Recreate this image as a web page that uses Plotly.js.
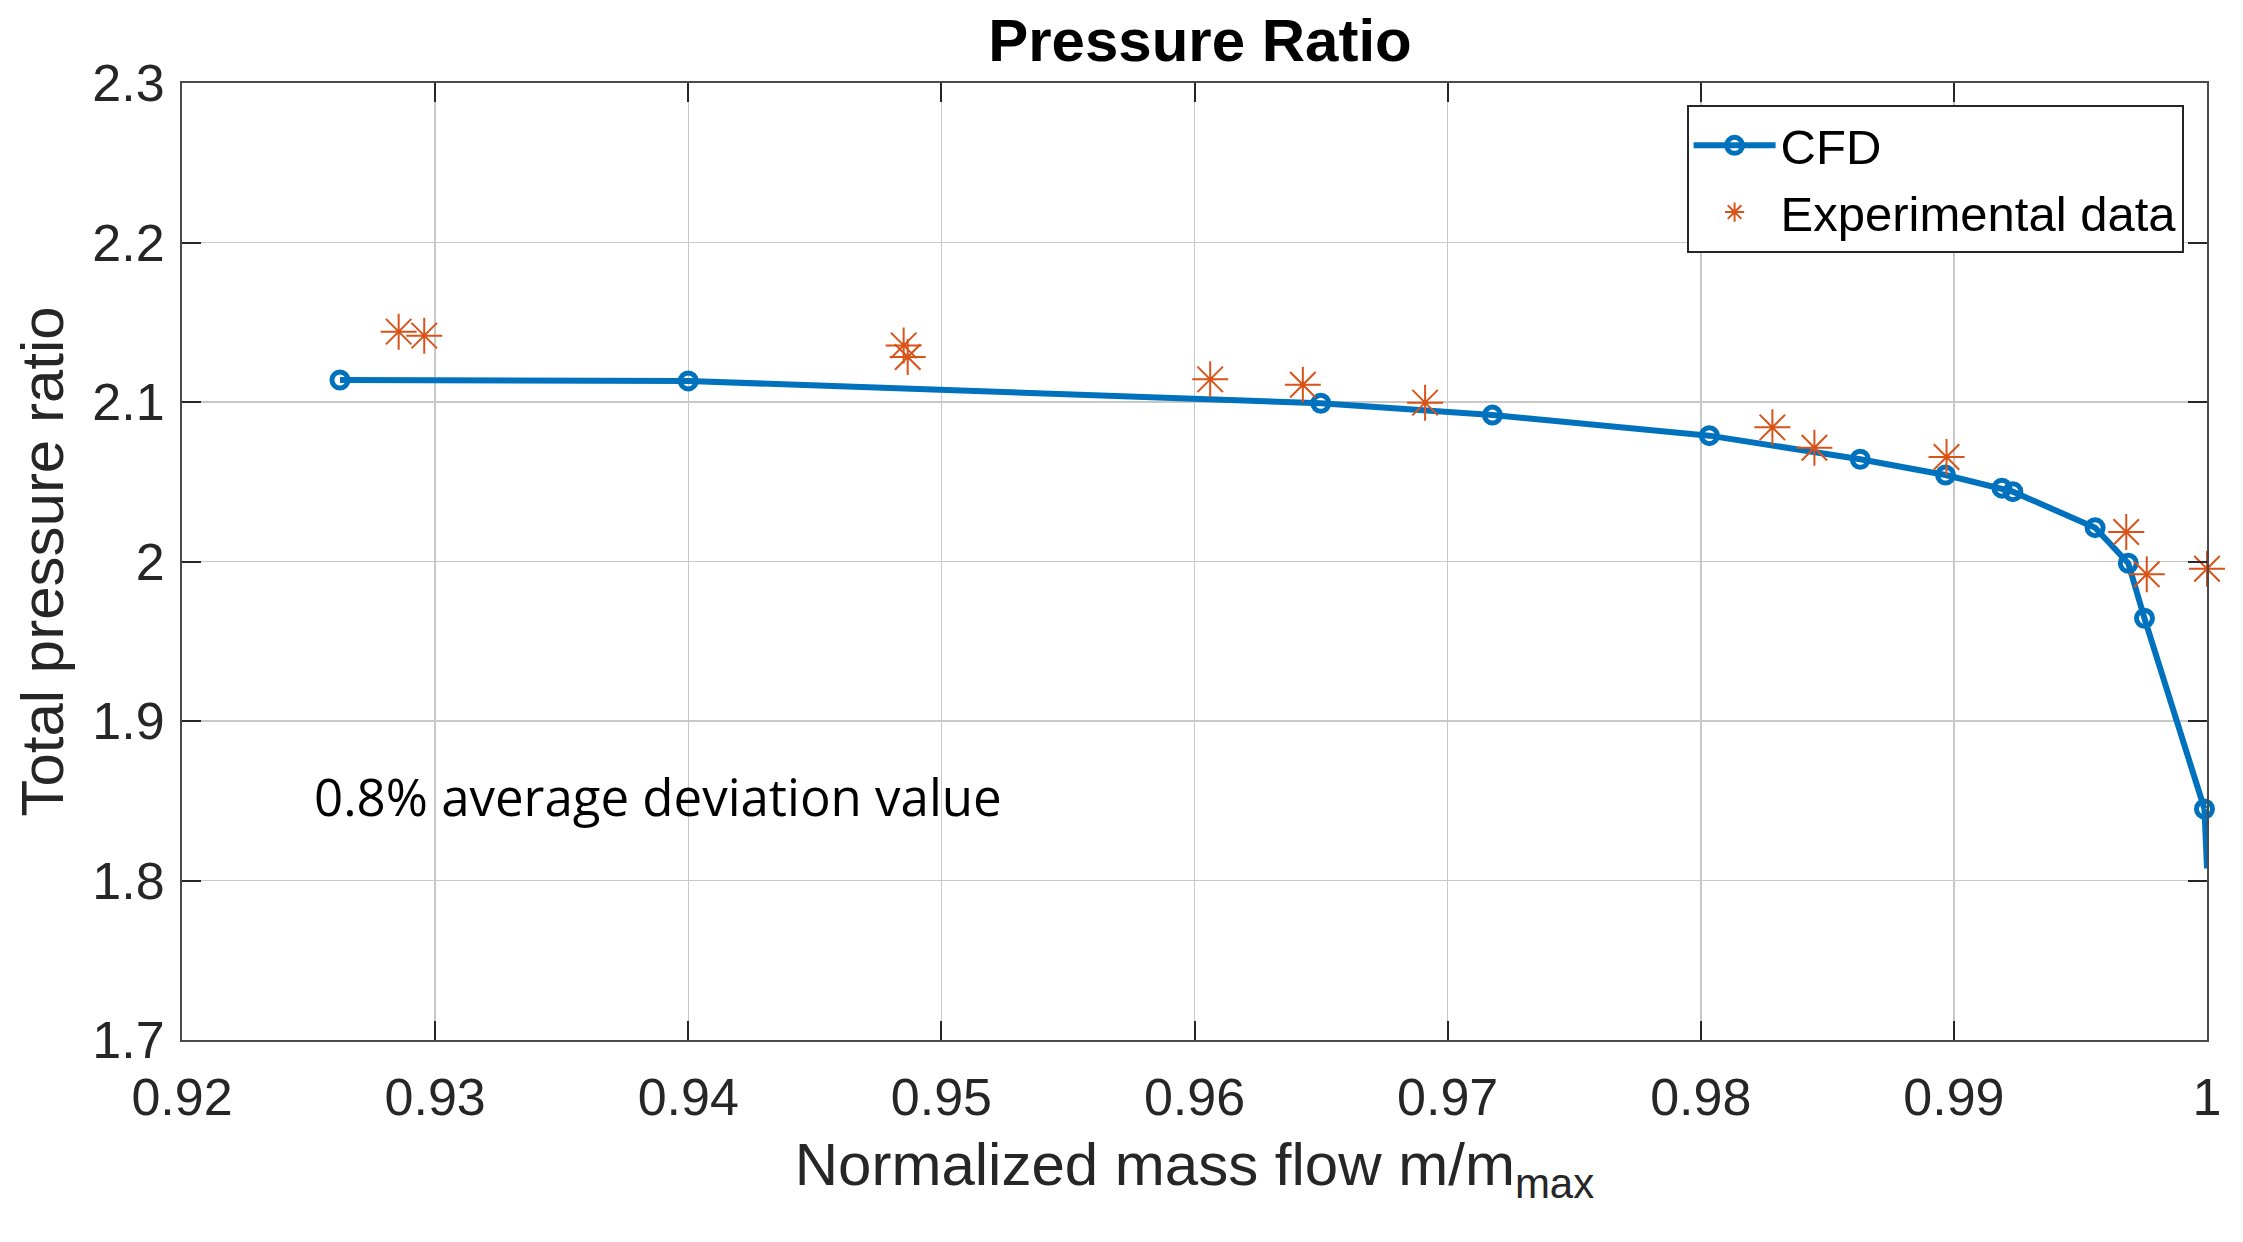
<!DOCTYPE html>
<html>
<head>
<meta charset="utf-8">
<script src="https://cdn.plot.ly/plotly-3.0.1.min.js"></script>
<style>html,body{margin:0;padding:0;background:#fff;}#chart{width:2243px;height:1242px;}</style>
</head>
<body>
<div id="chart"></div>
<script>
// CFD results (normalized mass flow, total pressure ratio)
const cfdX = [0.92624, 0.94000, 0.96499, 0.97177, 0.98034, 0.98630, 0.98967, 0.99190, 0.99233, 0.99558, 0.99689, 0.99753, 0.99990];
const cfdY = [2.1138, 2.1132, 2.0992, 2.0918, 2.0789, 2.0641, 2.0542, 2.0460, 2.0438, 2.0212, 1.9989, 1.9644, 1.8448];
// CFD curve continues (line only) to the axis edge
const cfdTailX = [0.99990, 1.00000];
const cfdTailY = [1.8448, 1.8076];
// Experimental data
const expX = [0.92856, 0.92957, 0.94851, 0.94867, 0.96062, 0.96428, 0.96911, 0.98283, 0.98449, 0.98971, 0.99681, 0.99762, 1.00000];
const expY = [2.1441, 2.1416, 2.1355, 2.1282, 2.1142, 2.1108, 2.0996, 2.0841, 2.0713, 2.0655, 2.0185, 1.9920, 1.9955];
// Axis ticks
const xTickVals = [0.92, 0.93, 0.94, 0.95, 0.96, 0.97, 0.98, 0.99, 1.0];
const xTickText = ['0.92', '0.93', '0.94', '0.95', '0.96', '0.97', '0.98', '0.99', '1'];
const yTickVals = [1.7, 1.8, 1.9, 2.0, 2.1, 2.2, 2.3];
const yTickText = ['1.7', '1.8', '1.9', '2', '2.1', '2.2', '2.3'];
const seriesNames = ['CFD', 'Experimental data'];
const noteText = '0.8% average deviation value';

const blue = '#0072BD';
const orange = '#D95319';
const axFont = {family: 'Liberation Sans, Arial, sans-serif', size: 52, color: '#262626'};

const traces = [
  {
    x: cfdTailX, y: cfdTailY, mode: 'lines', showlegend: false, hoverinfo: 'skip',
    line: {color: blue, width: 6}, cliponaxis: false
  },
  {
    x: cfdX, y: cfdY, name: seriesNames[0], mode: 'lines+markers',
    line: {color: blue, width: 6},
    marker: {symbol: 'circle-open', size: 16, color: blue, line: {color: blue, width: 5}},
    cliponaxis: false
  },
  {
    x: expX, y: expY, name: seriesNames[1], mode: 'markers',
    marker: {symbol: 'asterisk-open', size: 30, color: orange, line: {color: orange, width: 2}},
    cliponaxis: false
  }
];

const axisCommon = {
  showline: true, linecolor: '#4a4a4a', linewidth: 2, mirror: 'ticks',
  ticks: 'inside', ticklen: 19, tickwidth: 2, tickcolor: '#262626',
  showgrid: true, gridcolor: '#c8c8c8', gridwidth: 1.5,
  zeroline: false, tickfont: axFont, automargin: false
};

const layout = {
  width: 2243, height: 1242,
  paper_bgcolor: '#ffffff', plot_bgcolor: '#ffffff',
  margin: {l: 182, r: 36, t: 83, b: 202},
  title: {
    text: '<b>Pressure Ratio</b>',
    font: {family: 'Liberation Sans, Arial, sans-serif', size: 60, color: '#000000'},
    x: 0.5027, xref: 'paper', xanchor: 'center', y: 0.985, yref: 'container', yanchor: 'top'
  },
  xaxis: Object.assign({}, axisCommon, {
    range: [0.92, 1.0], tickmode: 'array', tickvals: xTickVals, ticktext: xTickText,
    ticklabelstandoff: 11,
    title: {text: 'Normalized mass flow m/m<sub>max</sub>', font: {family: 'Liberation Sans, Arial, sans-serif', size: 60, color: '#262626'}, standoff: 18}
  }),
  yaxis: Object.assign({}, axisCommon, {
    range: [1.7, 2.3], tickmode: 'array', tickvals: yTickVals, ticktext: yTickText,
    ticklabelstandoff: 5,
    title: {text: 'Total pressure ratio', font: {family: 'Liberation Sans, Arial, sans-serif', size: 60, color: '#262626'}, standoff: 9}
  }),
  legend: {
    x: 0.743, y: 0.977, xanchor: 'left', yanchor: 'top',
    bgcolor: '#ffffff', bordercolor: '#262626', borderwidth: 2,
    font: {family: 'Liberation Sans, Arial, sans-serif', size: 49, color: '#000000'},
    itemwidth: 82, tracegroupgap: 0
  },
  annotations: [{
    x: 0.92514, y: 1.853, xref: 'x', yref: 'y', xanchor: 'left', yanchor: 'middle',
    text: noteText, showarrow: false,
    font: {family: 'Open Sans, sans-serif', size: 51, color: '#000000'}
  }]
};

Plotly.newPlot('chart', traces, layout, {displayModeBar: false, staticPlot: true});
</script>
</body>
</html>
